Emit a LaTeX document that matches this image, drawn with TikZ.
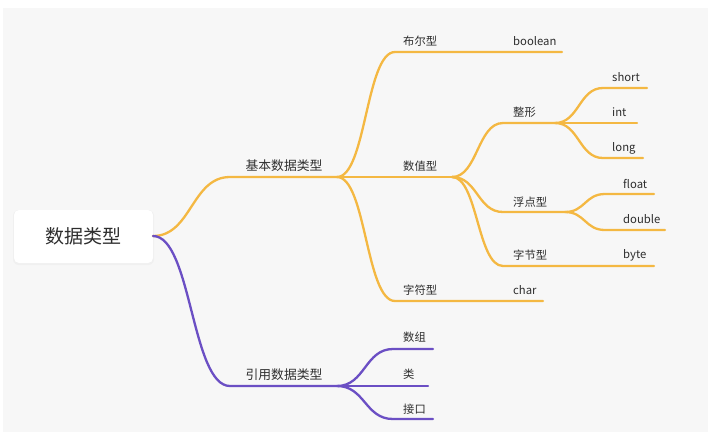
\documentclass[tikz,border=0pt]{standalone}
\usepackage{fontspec}
\setmainfont{Noto Sans CJK SC}
\usetikzlibrary{calc}
\definecolor{bgc}{HTML}{F7F7F7}
\definecolor{orn}{HTML}{F4B842}
\definecolor{pur}{HTML}{6B4FC4}
\definecolor{txt}{HTML}{2E2E2E}
\tikzset{
  br/.style={line width=2.3pt, line cap=round},
  curvy/.style={to path={let \p1=(\tikztostart), \p2=(\tikztotarget) in
     .. controls ({0.5*\x1+0.5*\x2},\y1) and ({0.5*\x1+0.5*\x2},\y2) .. (\tikztotarget) \tikztonodes}},
  lab/.style={anchor=west, inner sep=0pt, text=txt, font=\fontsize{11.3}{13}\selectfont},
  labA/.style={anchor=center, inner sep=0pt, text=txt, font=\fontsize{12.8}{15}\selectfont},
  rootbox/.style={fill=white, rounded corners=5pt, draw=none, minimum width=139pt, minimum height=53pt, text=txt, font=\fontsize{19}{22}\selectfont}
}
\begin{document}
\begin{tikzpicture}[x=1pt,y=-1pt]
\useasboundingbox (0,0) rectangle (708,432);
\fill[white] (0,0) rectangle (708,432);
\fill[bgc] (3,8) rectangle (708,432);
% root
\fill[black!6, rounded corners=6pt] (13,210) rectangle (154,265);
\node[rootbox] (root) at (83.5,236.5) {数据类型};
\coordinate (ro) at (153,236);
% level 1
\coordinate (jbS) at (230,177); \coordinate (jbE) at (337,177);
\coordinate (yyS) at (230,386); \coordinate (yyE) at (337,386);
\node[labA] (jb) at (284,166) {基本数据类型};
\node[labA] (yy) at (284,375) {引用数据类型};
\draw[br, orn] (ro) to[curvy] (jbS) -- (jbE);
\draw[br, pur] (ro) to[curvy] (yyS) -- (yyE);
% basic children
\coordinate (boS) at (395,52); \coordinate (boE) at (562,52);
\coordinate (nuE) at (452,177);
\coordinate (chS) at (395,301); \coordinate (chE) at (543,301);
\node[lab] (bo) at (403,41) {布尔型};
\node[lab] (boolean) at (513,41) {boolean};
\node[lab] (nu) at (403,166) {数值型};
\node[lab] (ch) at (403,290) {字符型};
\node[lab] (char) at (513,290) {char};
\draw[br, orn] (jbE) to[curvy] (boS) -- (boE);
\draw[br, orn] (jbE) -- (nuE);
\draw[br, orn] (jbE) to[curvy] (chS) -- (chE);
% numeric children
\coordinate (zxS) at (503,123); \coordinate (zxE) at (555,123);
\coordinate (fdS) at (503,212); \coordinate (fdE) at (565,212);
\coordinate (zjS) at (503,266); \coordinate (zjE) at (654,266);
\node[lab] (zx) at (513,112) {整形};
\node[lab] (fd) at (513,202) {浮点型};
\node[lab] (zj) at (513,255) {字节型};
\node[lab] (byte) at (623,255) {byte};
\draw[br, orn] (nuE) to[curvy] (zxS) -- (zxE);
\draw[br, orn] (nuE) to[curvy] (fdS) -- (fdE);
\draw[br, orn] (nuE) to[curvy] (zjS) -- (zjE);
% integer children
\coordinate (shS) at (603,88); \coordinate (shE) at (647,88);
\coordinate (inE) at (637,123);
\coordinate (loS) at (603,158); \coordinate (loE) at (643,158);
\node[lab] (short) at (612,77) {short};
\node[lab] (int) at (612,112) {int};
\node[lab] (long) at (612,148) {long};
\draw[br, orn] (zxE) to[curvy] (shS) -- (shE);
\draw[br, orn] (zxE) -- (inE);
\draw[br, orn] (zxE) to[curvy] (loS) -- (loE);
% float children
\coordinate (flS) at (605,194); \coordinate (flE) at (654,194);
\coordinate (dbS) at (605,230); \coordinate (dbE) at (665,230);
\node[lab] (float) at (623,184) {float};
\node[lab] (double) at (623,219) {double};
\draw[br, orn] (fdE) to[curvy] (flS) -- (flE);
\draw[br, orn] (fdE) to[curvy] (dbS) -- (dbE);
% reference children
\coordinate (szS) at (393,349); \coordinate (szE) at (433,349);
\coordinate (leE) at (428,386);
\coordinate (jkS) at (393,419); \coordinate (jkE) at (433,419);
\node[lab] (sz) at (403,337) {数组};
\node[lab] (le) at (403,374) {类};
\node[lab] (jk) at (403,409) {接口};
\draw[br, pur] (yyE) to[curvy] (szS) -- (szE);
\draw[br, pur] (yyE) -- (leE);
\draw[br, pur] (yyE) to[curvy] (jkS) -- (jkE);
\end{tikzpicture}
\end{document}
